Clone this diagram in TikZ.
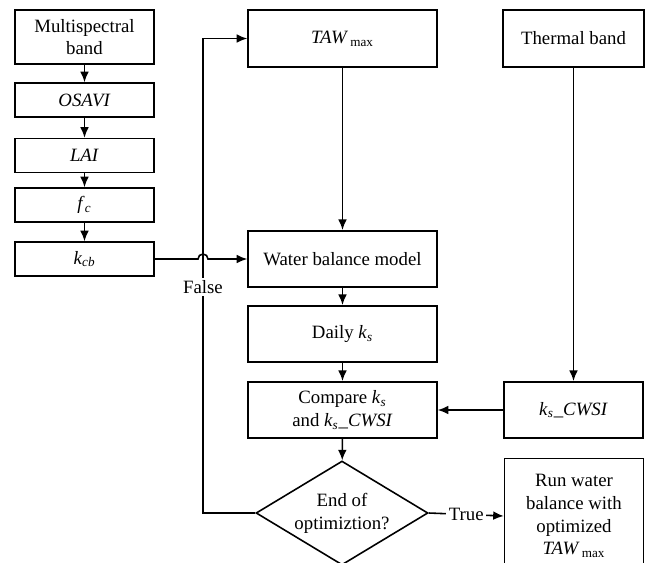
\documentclass[tikz,border=0pt]{standalone}
\usepackage{fontspec}
\setmainfont{Liberation Serif}
\usetikzlibrary{arrows.meta,positioning,shapes.geometric,calc}
\newcommand{\kS}{\textit{k}\textsubscript{\textit{s}}}
\newcommand{\tawmax}{\textit{TAW}\textsubscript{\,max}}

\begin{document}
\begin{tikzpicture}[->,>={Latex[length=6pt,width=5pt]},line width=0.9pt,x=0.02cm,y=-0.02cm,
 font=\fontsize{10.7}{13}\selectfont,
 box/.style={draw, align=center, inner sep=2pt},
 sbox/.style={box, minimum width=2.78cm, minimum height=0.68cm},
 wbox/.style={box, minimum width=3.78cm, minimum height=1.13cm},
 rbox/.style={box, minimum width=2.78cm, minimum height=1.13cm},
 lbl/.style={fill=white, inner sep=1.5pt}]
\useasboundingbox (0,0) rectangle (650,562);
\clip (0,0) rectangle (650,562);
% left column
\node[sbox, minimum height=1.08cm] (ms) at (84.5, 37) {Multispectral\\band};
\node[sbox] (osavi) at (84.5, 100) {\textit{OSAVI}};
\node[sbox] (lai) at (84.5, 155.5) {\textit{LAI}};
\node[sbox] (fc) at (84.5, 205) {\textit{f}\textsubscript{\textit{c}}};
\node[sbox] (kcb) at (84.5, 259) {\textit{k}\textsubscript{\textit{cb}}};
% middle column
\node[wbox] (taw) at (342.5, 38.5) {\tawmax};
\node[wbox] (wbm) at (342.5, 259) {Water balance model};
\node[wbox] (daily) at (342.5, 334) {Daily \kS};
\node[wbox] (comp) at (342.5, 410) {Compare \kS\\and \kS\_\textit{CWSI}};
\node[draw, diamond, aspect=1.65, align=center, inner sep=0pt, minimum width=3.44cm,
 minimum height=2.08cm] (dec) at (342, 513) {End of\\optimiztion?};
% right column
\node[rbox, minimum width=2.82cm] (thermal) at (573.5, 38.5) {Thermal band};
\node[rbox] (kcwsi) at (573.5, 410) {\kS\_\textit{CWSI}};
\node[rbox, minimum height=2.3cm] (run) at (574, 516)
 {Run water\\balance with\\optimized\\\tawmax};
\coordinate (hop) at (203, 259);

\path (ms) edge (osavi);
\path (osavi) edge (lai);
\path (lai) edge (fc);
\path (fc) edge (kcb);
\path (taw) edge (wbm);
\path (wbm) edge (daily);
\path (daily) edge (comp);
\path (comp) edge (dec);
\path (thermal) edge (kcwsi);
\path (kcwsi) edge (comp);
\draw (kcb.east) -- ($(hop)+(-5,0)$) arc[start angle=180, end angle=360, radius=5]
 -- (wbm.west);
\draw (dec.west) -- (dec.west -| hop) -- (taw.west -| hop) -- (taw.west);
\node[lbl] (false) at (203, 287) {False};
\draw (dec.east) -- node[lbl] (true) {True} (run.west);
\end{tikzpicture}
\end{document}
